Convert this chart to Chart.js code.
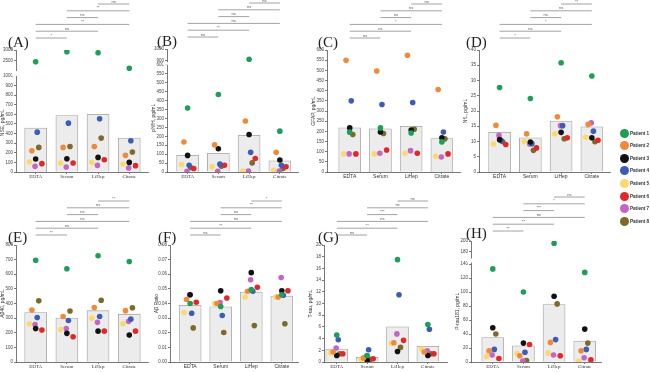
<!DOCTYPE html>
<html lang="en">
<head>
<meta charset="UTF-8">
<title>Biomarkers by blood tube</title>
<script src="https://cdn.jsdelivr.net/npm/chart.js"></script>
<style>
  body { margin: 0; background: #fff; width: 650px; height: 372px; overflow: hidden; position: relative; font-family: 'Liberation Sans', Arial, sans-serif; }
  canvas { position: absolute; }
  .item { position: absolute; white-space: nowrap; font-size: 4.6px; font-weight: bold; color: #333; line-height: 9px; }
  .dot { position: absolute; width: 9px; height: 9px; border-radius: 50%; }
</style>
</head>
<body>
<canvas id="cA"></canvas>
<canvas id="cB"></canvas>
<canvas id="cC"></canvas>
<canvas id="cD"></canvas>
<canvas id="cE"></canvas>
<canvas id="cF"></canvas>
<canvas id="cG"></canvas>
<canvas id="cH"></canvas>
<div id="legend"></div>

<script>
// ---- data ----
const categories = ['EDTA', 'Serum', 'LiHep', 'Citrate'];
const patients = ['Patient 1', 'Patient 2', 'Patient 3', 'Patient 4', 'Patient 5', 'Patient 6', 'Patient 7', 'Patient 8'];
const patientColors = ['#1e9e57', '#ee8a3a', '#121212', '#3b5db7', '#fbd970', '#e0282a', '#c664c3', '#7b6a2c'];
// horizontal spread of the dots inside a category (category units)
const jitter = [0, -0.12, 0, 0.05, -0.2, 0.2, -0.02, 0.1];

// comparisons drawn above each panel, lowest first
const sigPairs = [[0, 1], [0, 2], [0, 3], [1, 2], [1, 3], [2, 3]];

// (A)
const nseMean = [457, 588, 602, 353];
const nseValues = [
  [2460, 2920, 2875, 2170],
  [221, 256, 266, 173],
  [135, 138, 152, 100],
  [415, 509, 554, 325],
  [104, 93, 100, 83],
  [87, 93, 128, 66],
  [59, 52, 69, 42],
  [256, 266, 353, 208]
];
const nseTicks = [0, 100, 200, 300, 400, 500, 600, 700, 800, 900, 1000];
const nseTopTicks = [2500, 3000];
const nseSig = ['*', 'ns', '**', 'ns', '**', 'ns'];

// (B)
const nfhMean = [93, 105, 206, 63];
const nfhValues = [
  [358, 434, 914, 229],
  [168, 152, 286, 110],
  [93, 130, 210, 67],
  [38, 44, 110, 38],
  [42, 30, 5, 10],
  [20, 38, 76, 29],
  [4, 4, 6, 6],
  [25, 32, 51, 19]
];
const nfhTicks = [0, 50, 100, 150, 200, 250, 300, 350, 400, 450, 500, 550, 600];
const nfhTopTicks = [900, 1000];
const nfhSig = ['ns', '**', 'ns', 'ns', 'ns', 'ns'];

// (C)
const gfapMean = [217, 212, 225, 164];
const gfapValues = [
  [196, 217, 192, 148],
  [549, 497, 574, 406],
  [217, 197, 206, 168],
  [350, 332, 342, 197],
  [89, 89, 92, 77],
  [89, 108, 92, 89],
  [89, 92, 105, 74],
  [184, 189, 210, 163]
];
const gfapTicks = [0, 50, 100, 150, 200, 250, 300, 350, 400, 450, 500, 550, 600];
const gfapSig = ['ns', 'ns', '*', 'ns', 'ns', 'ns'];

// (D)
const nflMean = [13, 11.2, 16.7, 14.8];
const nflValues = [
  [27.7, 24.1, 35.8, 31.5],
  [15.3, 12.5, 18.1, 15.6],
  [10.6, 9.8, 13, 11.2],
  [10.3, 9.3, 15.2, 13.4],
  [9.2, 10, 12.5, 11.4],
  [9, 7.9, 11.2, 10.4],
  [12, 9.2, 15.2, 16.1],
  [9.9, 7.1, 10.9, 9.9]
];
const nflTicks = [0, 5, 10, 15, 20, 25, 30, 35, 40];
const nflSig = ['*', 'ns', '*', 'ns', 'ns', '**'];

// (E)
const ab40Mean = [338, 300, 351, 327];
const ab40Values = [
  [696, 638, 727, 687],
  [356, 311, 373, 351],
  [229, 196, 211, 184],
  [304, 284, 311, 293],
  [262, 222, 300, 262],
  [218, 173, 211, 211],
  [256, 229, 271, 278],
  [418, 349, 422, 371]
];
const ab40Ticks = [0, 100, 200, 300, 400, 500, 600, 700, 800];
const ab40Sig = ['**', 'ns', 'ns', 'ns', 'ns', '**'];

// (F)
const ratioMean = [0.0387, 0.0378, 0.0478, 0.0451];
const ratioValues = [
  [0.040, 0.038, 0.0496, 0.046],
  [0.0427, 0.040, 0.0484, 0.0444],
  [0.046, 0.0487, 0.0611, 0.0487],
  [0.0333, 0.0318, 0.0484, 0.0456],
  [0.0338, 0.040, 0.0444, 0.0444],
  [0.0409, 0.0438, 0.0511, 0.0487],
  [0.046, 0.0407, 0.0562, 0.0578],
  [0.0233, 0.0202, 0.0249, 0.0262]
];
const ratioTicks = [0, 0.01, 0.02, 0.03, 0.04, 0.05, 0.06, 0.07, 0.08];
const ratioSig = ['ns', '**', 'ns', 'ns', '**', '*'];

// (G)
const ttauMean = [2.2, 0.8, 6.0, 2.7];
const ttauValues = [
  [4.6, 1.1, 17.5, 6.4],
  [1.7, 0.7, 3.3, 1.7],
  [1.1, 0.3, 1.8, 1.1],
  [3.8, 2.1, 11.5, 5.6],
  [1.6, 0.45, 3.2, 2.2],
  [1.4, 0.55, 3.7, 1.4],
  [2.4, 1.0, 4.8, 1.9],
  [1.4, 0.45, 2.5, 1.4]
];
const ttauTicks = [0, 2, 4, 6, 8, 10, 12, 14, 16, 18, 20];
const ttauSig = ['ns', '**', 'ns', '***', 'ns', 'ns'];

// (H)
const ptauMean = [35, 23, 82, 30];
const ptauValues = [
  [133, 100, 196, 128],
  [16, 9, 28, 16],
  [49, 27, 94, 47],
  [18, 14, 32, 18],
  [8, 12, 13, 1],
  [5, 25, 9, 3],
  [10, 1.5, 10, 6],
  [40, 2, 83, 27]
];
const ptauTicks = [0, 20, 40, 60, 80, 100, 120, 140];
const ptauTopTicks = [180, 200];
const ptauSig = ['**', '**', 'ns', '***', '*', 'ns'];

// ---- panels ----
const TOP_ROW = 0, BOT_ROW = 185;

const panels = [
  { id: 'cA', tag: '(A)', title: 'NSE, pg/mL', mean: nseMean, values: nseValues, sig: nseSig,
    ticks: nseTicks, lowRange: [0, 1026], topTicks: nseTopTicks, topRange: [1930, 3000], weights: [23.5, 98.5], gap: 5,
    axisX: 16, right: 150, xRange: [-0.63, 3.6], rowTop: TOP_ROW, chartTop: 50, chartBottom: 172, labelX: 8, xFont: 'Liberation Serif' },
  { id: 'cB', tag: '(B)', title: 'pNfH, pg/mL', mean: nfhMean, values: nfhValues, sig: nfhSig,
    ticks: nfhTicks, lowRange: [0, 608], topTicks: nfhTopTicks, topRange: [879, 1000], weights: [14.5, 108.5], gap: 2.5,
    axisX: 167, right: 300, xRange: [-0.67, 3.59], rowTop: TOP_ROW, chartTop: 49, chartBottom: 172, labelX: 157, xFont: 'Liberation Serif' },
  { id: 'cC', tag: '(C)', title: 'GFAP, pg/mL', mean: gfapMean, values: gfapValues, sig: gfapSig,
    ticks: gfapTicks, lowRange: [0, 600],
    axisX: 327, right: 462, xRange: [-0.74, 3.59], rowTop: TOP_ROW, chartTop: 50, chartBottom: 172, labelX: 318, xFont: 'Liberation Sans' },
  { id: 'cD', tag: '(D)', title: 'NfL, pg/mL', mean: nflMean, values: nflValues, sig: nflSig,
    ticks: nflTicks, lowRange: [0, 40],
    axisX: 479, right: 612, xRange: [-0.67, 3.59], rowTop: TOP_ROW, chartTop: 50, chartBottom: 172, labelX: 466, xFont: 'Liberation Sans' },
  { id: 'cE', tag: '(E)', title: 'A\u03b240, pg/mL', mean: ab40Mean, values: ab40Values, sig: ab40Sig,
    ticks: ab40Ticks, lowRange: [0, 800],
    axisX: 16, right: 150, xRange: [-0.63, 3.6], rowTop: BOT_ROW, chartTop: 245, chartBottom: 362, labelX: 8, xFont: 'Liberation Serif' },
  { id: 'cF', tag: '(F)', title: 'A\u03b2 Ratio', mean: ratioMean, values: ratioValues, sig: ratioSig,
    ticks: ratioTicks, lowRange: [0, 0.08], decimals: 2,
    axisX: 170, right: 300, xRange: [-0.66, 3.53], rowTop: BOT_ROW, chartTop: 245, chartBottom: 362, labelX: 158, xFont: 'Liberation Sans' },
  { id: 'cG', tag: '(G)', title: 'T-tau, pg/mL', mean: ttauMean, values: ttauValues, sig: ttauSig,
    ticks: ttauTicks, lowRange: [0, 20],
    axisX: 324, right: 449, xRange: [-0.42, 3.63], rowTop: BOT_ROW, chartTop: 245, chartBottom: 362, labelX: 318, xFont: 'Liberation Serif' },
  { id: 'cH', tag: '(H)', title: 'P-tau181, pg/mL', mean: ptauMean, values: ptauValues, sig: ptauSig,
    ticks: ptauTicks, lowRange: [0, 145], topTicks: ptauTopTicks, topRange: [164.5, 200], weights: [19.5, 101.5], gap: 4,
    axisX: 471, right: 603, xRange: [-0.71, 3.53], rowTop: BOT_ROW, chartTop: 241, chartBottom: 362, labelX: 466, xFont: 'Liberation Serif' }
];

const AXIS_W = 16, XAXIS_H = 8;
const axisColor = '#555';

const extras = {
  id: 'extras',
  afterDraw(chart, args, o) {
    const { ctx, chartArea } = chart;
    const x = chart.scales.x;
    ctx.save();
    // broken axis gap
    if (o.gap && chart.scales.yTop) {
      const j = Math.max(chart.scales.yTop.bottom, chart.scales.y.top);
      ctx.fillStyle = '#fff';
      ctx.fillRect(chartArea.left - 4, j - o.gap / 2, 7, o.gap);
    }
    // significance bars
    ctx.strokeStyle = '#8a8a8a';
    ctx.lineWidth = 0.8;
    ctx.fillStyle = '#555';
    ctx.font = '4px "Liberation Sans"';
    ctx.textAlign = 'center';
    ctx.textBaseline = 'bottom';
    sigPairs.forEach((pr, k) => {
      const y = chartArea.top - o.base - k * o.step;
      const x1 = x.getPixelForValue(pr[0]), x2 = x.getPixelForValue(pr[1]);
      ctx.beginPath();
      ctx.moveTo(x1, y);
      ctx.lineTo(x2, y);
      ctx.stroke();
      ctx.fillText(o.sig[k], (x1 + x2) / 2, y - 0.5);
    });
    // panel tag
    ctx.fillStyle = '#222';
    ctx.font = '15px "Liberation Serif"';
    ctx.textAlign = 'left';
    ctx.textBaseline = 'alphabetic';
    ctx.fillText(o.tag, o.tagX, chartArea.top - 3);
    ctx.restore();
  }
};

function yAxis(p, opts) {
  return Object.assign({
    type: 'linear',
    position: 'left',
    border: { color: axisColor, width: 0.8 },
    grid: { drawOnChartArea: false, drawTicks: true, tickLength: 2, color: axisColor, lineWidth: 0.8 },
    ticks: {
      font: { size: 4.5, family: 'Liberation Sans' }, color: '#444', padding: 1, autoSkip: false,
      callback: v => p.decimals ? v.toFixed(p.decimals) : String(v)
    },
    afterFit: s => { s.width = AXIS_W; }
  }, opts);
}

function makePanel(p) {
  const cv = document.getElementById(p.id);
  const left = p.axisX - AXIS_W;
  cv.width = p.right - left + 2;
  cv.height = p.chartBottom - p.rowTop + XAXIS_H;
  cv.style.left = left + 'px';
  cv.style.top = p.rowTop + 'px';

  const broken = !!p.topRange;
  const datasets = [{
    type: 'bar', data: p.mean.map((v, c) => ({ x: c, y: v })), yAxisID: 'y', order: 2, grouped: false,
    backgroundColor: '#ececec', borderColor: '#a3a3a3', borderWidth: 0.8, barThickness: 22
  }];
  p.values.forEach((row, i) => {
    const low = [], high = [];
    row.forEach((v, c) => {
      const pt = { x: c + jitter[i], y: v };
      if (broken && v > p.lowRange[1]) high.push(pt); else low.push(pt);
    });
    const style = { type: 'scatter', order: 1, label: patients[i],
      backgroundColor: patientColors[i], borderWidth: 0, pointRadius: 2.8 };
    datasets.push(Object.assign({ data: low, yAxisID: 'y' }, style));
    if (high.length) datasets.push(Object.assign({ data: high, yAxisID: 'yTop' }, style));
  });

  const scales = {
    x: {
      type: 'linear', min: p.xRange[0], max: p.xRange[1], offset: false,
      border: { color: axisColor, width: 0.8 },
      grid: { drawOnChartArea: false, drawTicks: true, tickLength: 2, color: axisColor, lineWidth: 0.8, offset: false },
      afterBuildTicks: s => { s.ticks = categories.map((c, i) => ({ value: i })); },
      ticks: { font: { size: 5, family: p.xFont }, color: '#333', padding: 0, maxRotation: 0, autoSkip: false,
        callback: v => categories[v] },
      afterFit: s => { s.height = XAXIS_H; }
    },
    y: yAxis(p, {
      min: p.lowRange[0], max: p.lowRange[1],
      afterBuildTicks: s => { s.ticks = p.ticks.map(v => ({ value: v })); },
      title: { display: true, text: p.title, font: { size: 5, family: 'Liberation Sans' }, color: '#333', padding: 0 }
    })
  };
  if (broken) {
    scales.y.stack = 'left';
    scales.y.stackWeight = p.weights[1];
    scales.yTop = yAxis(p, {
      min: p.topRange[0], max: p.topRange[1], stack: 'left', stackWeight: p.weights[0],
      afterBuildTicks: s => { s.ticks = p.topTicks.map(v => ({ value: v })); }
    });
  }

  new Chart(cv, {
    type: 'bar',
    data: { datasets },
    options: {
      responsive: false,
      animation: false,
      layout: { padding: { top: p.chartTop - p.rowTop, right: 2, left: 0, bottom: 0 } },
      plugins: {
        legend: { display: false },
        tooltip: { enabled: false },
        extras: { sig: p.sig, base: p.rowTop === TOP_ROW ? 12 : 10, step: 6.8, tag: p.tag, tagX: p.labelX - left, gap: p.gap }
      },
      scales
    },
    plugins: [extras]
  });
}

panels.forEach(makePanel);

// legend
const lg = document.getElementById('legend');
patients.forEach((name, i) => {
  const y = 133 + i * 12.6;
  const d = document.createElement('div');
  d.className = 'dot';
  d.style.left = (624 - 4.5) + 'px';
  d.style.top = (y - 4.5) + 'px';
  d.style.background = patientColors[i];
  lg.appendChild(d);
  const t = document.createElement('div');
  t.className = 'item';
  t.style.left = '630px';
  t.style.top = (y - 4.5) + 'px';
  t.textContent = name;
  lg.appendChild(t);
});
</script>
</body>
</html>
